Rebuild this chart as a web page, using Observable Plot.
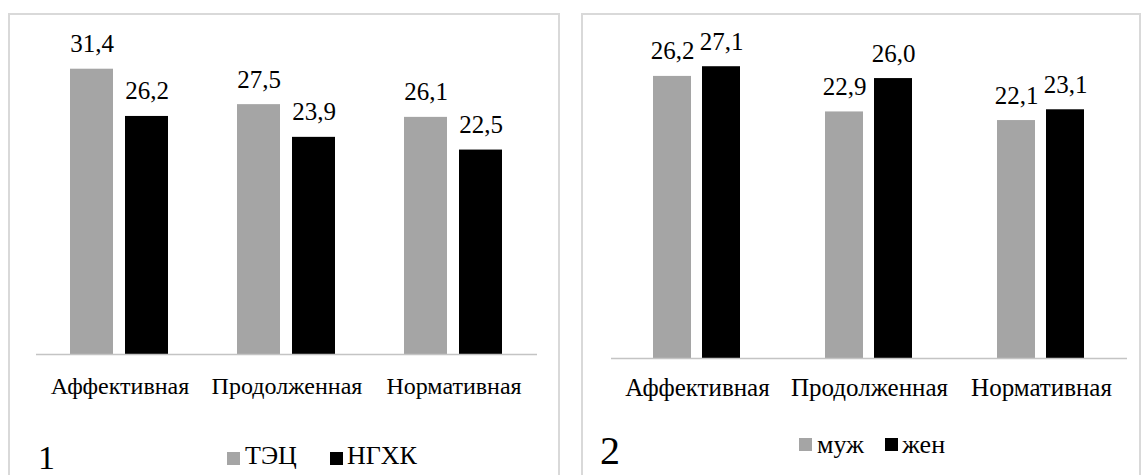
<!DOCTYPE html>
<html>
<head>
<meta charset="utf-8">
<script src="https://cdn.jsdelivr.net/npm/d3@7"></script>
<script src="https://cdn.jsdelivr.net/npm/@observablehq/plot@0.6"></script>
</head>
<body style="margin:0; padding:0; background:#fff;">
<div id="page" style="position:relative; width:1143px; height:475px; overflow:hidden; color:#000;">
  <div style="position:absolute; left:8px; top:13px; width:552px; height:520px; border:2px solid #d9d9d9; box-sizing:border-box;"></div>
  <div style="position:absolute; left:581px; top:13px; width:560px; height:520px; border:2px solid #d9d9d9; box-sizing:border-box;"></div>
  <div id="c1" style="position:absolute; top:0; left:0px;"></div>
  <div id="c2" style="position:absolute; top:0; left:575px;"></div>
</div>
<script>
// ---- data ----
const categories = ["Аффективная", "Продолженная", "Нормативная"];
const series1 = ["ТЭЦ", "НГХК"];
const tecValues = [31.4, 27.5, 26.1];
const ngkhValues = [26.2, 23.9, 22.5];
const series2 = ["муж", "жен"];
const maleValues = [26.2, 22.9, 22.1];
const femaleValues = [27.1, 26.0, 23.1];
const panelLabels = ["1", "2"];

const FONT = '"Liberation Serif", monospace';
const grayColor = "#a5a5a5";
const blackColor = "#000000";
const fmt = v => v.toFixed(1).replace(".", ",");

function rowsOf(series, a, b) {
  const rows = [];
  categories.forEach((c, i) => {
    rows.push({category: c, series: series[0], value: a[i]});
    rows.push({category: c, series: series[1], value: b[i]});
  });
  return rows;
}

function makeChart(rows, series, opts) {
  const svg = Plot.plot({
    width: opts.width,
    height: opts.height,
    marginLeft: opts.ml,
    marginRight: opts.mr,
    marginTop: opts.mt,
    marginBottom: opts.mb,
    style: {background: "transparent", overflow: "visible", color: "#000", fontFamily: FONT},
    fx: {domain: categories, padding: 0, label: null},
    x: {domain: series, paddingInner: opts.pi, paddingOuter: opts.po, axis: null},
    y: {domain: [0, opts.ymax], axis: null},
    color: {domain: series, range: [grayColor, blackColor]},
    marks: [
      Plot.barY(rows, {fx: "category", x: "series", y: "value", fill: "series"}),
      Plot.ruleY([0], {stroke: "#c4c4c4", strokeWidth: 1.5}),
      Plot.text(rows, {fx: "category", x: "series", y: "value", text: d => fmt(d.value),
        lineAnchor: "bottom", dy: opts.labelDy, fontSize: opts.valueFont, fill: "#000"}),
      Plot.axisFx({anchor: "bottom", tickSize: 0, tickPadding: opts.tickPad, fontSize: opts.catFont, label: null, fill: "#000"})
    ]
  });
  svg.querySelectorAll("text").forEach(t => { t.style.fontFamily = FONT; });
  return svg;
}

document.getElementById("c1").appendChild(makeChart(rowsOf(series1, tecValues, ngkhValues), series1, {
  width: 570, height: 410, ml: 35, mr: 32, mt: 36, mb: 56, ymax: 35,
  pi: 0.214, po: 0.616, labelDy: -17, valueFont: 25, catFont: 24, tickPad: 22
}));
document.getElementById("c2").appendChild(makeChart(rowsOf(series2, maleValues, femaleValues), series2, {
  width: 568, height: 410, ml: 36, mr: 16, mt: 35, mb: 52, ymax: 30,
  pi: 0.221, po: 0.857, labelDy: -17, valueFont: 25, catFont: 25, tickPad: 20
}));

// ---- legends & panel numbers ----
function addText(parent, text, left, top, size) {
  const s = document.createElement("div");
  s.textContent = text;
  s.style.fontFamily = FONT;
  Object.assign(s.style, {position: "absolute", whiteSpace: "nowrap", lineHeight: "1",
    left: left + "px", top: top + "px", fontSize: size + "px"});
  parent.appendChild(s);
}
function addSwatch(parent, color, left, top, size) {
  const d = document.createElement("div");
  Object.assign(d.style, {position: "absolute", left: left + "px", top: top + "px",
    width: size + "px", height: size + "px", background: color});
  parent.appendChild(d);
}
const page = document.getElementById("page");
addText(page, panelLabels[0], 38, 441, 34);
addSwatch(page, grayColor, 227, 452, 13);
addText(page, series1[0], 245, 443, 26);
addSwatch(page, blackColor, 330, 452, 13);
addText(page, series1[1], 347, 443, 26);

addText(page, panelLabels[1], 600, 431, 40);
addSwatch(page, grayColor, 799, 438, 13);
addText(page, series2[0], 817, 432, 26);
addSwatch(page, blackColor, 885, 438, 13);
addText(page, series2[1], 902, 432, 26);
</script>
</body>
</html>
